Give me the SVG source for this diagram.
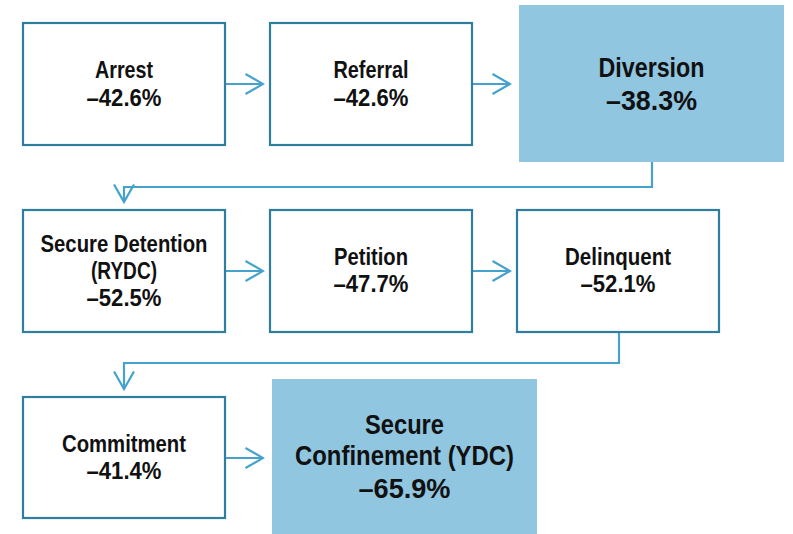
<svg xmlns="http://www.w3.org/2000/svg" width="793" height="534" viewBox="0 0 793 534">
<style>
.box{fill:#ffffff;stroke:#2f7ea0;stroke-width:2.2}
.hl{fill:#90c6e0;stroke:none}
.con{fill:none;stroke:#45a2cc;stroke-width:2.2}
text{font-family:"Liberation Sans",Arial,sans-serif;font-weight:700;fill:#111;text-anchor:middle}
.s{font-size:24px}
.l{font-size:28.5px}
</style>
<defs>
<marker id="arr" markerUnits="userSpaceOnUse" viewBox="0 0 20 22" markerWidth="20" markerHeight="22" refX="18.5" refY="11" orient="auto">
<path d="M1,1 L18.5,11 L1,21" fill="none" stroke="#45a2cc" stroke-width="2.2"/>
</marker>
</defs>
<rect width="793" height="534" fill="#ffffff"/>
<g id="connectors">
<line class="con" x1="225" y1="84" x2="263" y2="84" marker-end="url(#arr)"/>
<line class="con" x1="472" y1="84" x2="510" y2="84" marker-end="url(#arr)"/>
<polyline class="con" points="652,162 652,187 124,187 124,202" marker-end="url(#arr)"/>
<line class="con" x1="225" y1="271" x2="263" y2="271" marker-end="url(#arr)"/>
<line class="con" x1="472" y1="271" x2="510" y2="271" marker-end="url(#arr)"/>
<polyline class="con" points="619,332 619,363 124,363 124,389" marker-end="url(#arr)"/>
<line class="con" x1="225" y1="458" x2="263" y2="458" marker-end="url(#arr)"/>
</g>
<g id="arrest">
<rect class="box" x="23" y="23" width="202" height="122"/>
<text class="s" x="124" y="78" textLength="58" lengthAdjust="spacingAndGlyphs">Arrest</text>
<text class="s" x="124" y="106" textLength="75" lengthAdjust="spacingAndGlyphs">–42.6%</text>
</g>
<g id="referral">
<rect class="box" x="270" y="23" width="202" height="122"/>
<text class="s" x="371" y="78" textLength="75" lengthAdjust="spacingAndGlyphs">Referral</text>
<text class="s" x="371" y="106" textLength="75" lengthAdjust="spacingAndGlyphs">–42.6%</text>
</g>
<g id="diversion">
<rect class="hl" x="519" y="5" width="265" height="157"/>
<text class="l" x="651.5" y="77" textLength="106" lengthAdjust="spacingAndGlyphs">Diversion</text>
<text class="l" x="651.5" y="110" textLength="91" lengthAdjust="spacingAndGlyphs">–38.3%</text>
</g>
<g id="secure-detention">
<rect class="box" x="23" y="210" width="202" height="122"/>
<text class="s" x="124" y="252" textLength="167" lengthAdjust="spacingAndGlyphs">Secure Detention</text>
<text class="s" x="124" y="279" textLength="66" lengthAdjust="spacingAndGlyphs">(RYDC)</text>
<text class="s" x="124" y="306" textLength="75" lengthAdjust="spacingAndGlyphs">–52.5%</text>
</g>
<g id="petition">
<rect class="box" x="270" y="210" width="202" height="122"/>
<text class="s" x="371" y="265" textLength="74" lengthAdjust="spacingAndGlyphs">Petition</text>
<text class="s" x="371" y="292" textLength="75" lengthAdjust="spacingAndGlyphs">–47.7%</text>
</g>
<g id="delinquent">
<rect class="box" x="517" y="210" width="202" height="122"/>
<text class="s" x="618" y="265" textLength="106" lengthAdjust="spacingAndGlyphs">Delinquent</text>
<text class="s" x="618" y="292" textLength="75" lengthAdjust="spacingAndGlyphs">–52.1%</text>
</g>
<g id="commitment">
<rect class="box" x="23" y="397" width="202" height="121"/>
<text class="s" x="124" y="452" textLength="124" lengthAdjust="spacingAndGlyphs">Commitment</text>
<text class="s" x="124" y="479" textLength="75" lengthAdjust="spacingAndGlyphs">–41.4%</text>
</g>
<g id="secure-confinement">
<rect class="hl" x="272" y="379" width="265" height="155"/>
<text class="l" x="404.5" y="434" textLength="79" lengthAdjust="spacingAndGlyphs">Secure</text>
<text class="l" x="404.5" y="465" textLength="219" lengthAdjust="spacingAndGlyphs">Confinement (YDC)</text>
<text class="l" x="404.5" y="498" textLength="92" lengthAdjust="spacingAndGlyphs">–65.9%</text>
</g>
</svg>
